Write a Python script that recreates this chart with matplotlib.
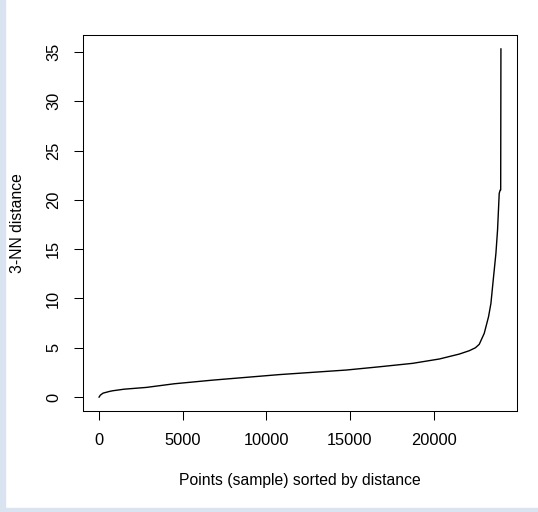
import matplotlib
matplotlib.use("Agg")
import matplotlib.pyplot as plt
from matplotlib.patches import Rectangle

# Data (sorted 3-NN distances)
rank = [1, 80, 240, 640, 818, 1500, 2830, 4500, 6806, 8800, 10790, 12779, 14770,
        16758, 18746, 20340, 21534, 22131, 22500, 22728, 23026, 23284, 23426,
        23564, 23725, 23822, 23922, 23982, 24010, 24024]
dist = [0.0, 0.2, 0.4, 0.58, 0.64, 0.8, 0.98, 1.35, 1.72, 2.0, 2.28, 2.51, 2.74,
        3.07, 3.42, 3.86, 4.36, 4.7, 5.0, 5.35, 6.46, 8.15, 9.5,
        11.87, 14.58, 16.94, 20.66, 21.0, 21.0, 35.3]
xticks = [0, 5000, 10000, 15000, 20000]
yticks = [0, 5, 10, 15, 20, 25, 30, 35]

W, H = 538, 512
fig = plt.figure(figsize=(W / 100, H / 100), dpi=100)
fig.patch.set_facecolor("white")
blue = "#dae4f1"
fig.patches.append(Rectangle((0, 0), 5 / W, 1, transform=fig.transFigure, color=blue, zorder=0))
fig.patches.append(Rectangle((0, 0), 1, 4 / H, transform=fig.transFigure, color=blue, zorder=0))

left, right, top, bottom = 83, 517, 35, 411
ax = fig.add_axes([left / W, 1 - bottom / H, (right - left) / W, (bottom - top) / H])
ax.plot(rank, dist, color="black", lw=1.0)

xmin, xmax = 1, max(rank)
ymin, ymax = min(dist), max(dist)
ax.set_xlim(xmin - 0.04 * (xmax - xmin), xmax + 0.04 * (xmax - xmin))
ax.set_ylim(ymin - 0.04 * (ymax - ymin), ymax + 0.04 * (ymax - ymin))
ax.set_xticks(xticks)
ax.set_yticks(yticks)
ax.set_xticklabels([str(t) for t in xticks])
ax.set_yticklabels([str(t) for t in yticks], rotation=90, va="center")

font = "Liberation Sans"
for lab in ax.get_xticklabels() + ax.get_yticklabels():
    lab.set_fontfamily(font)
    lab.set_fontsize(11.8)
ax.tick_params(direction="out", length=6.5, width=0.75, pad=9.4, colors="black")
for s in ax.spines.values():
    s.set_linewidth(0.75)

fig.text(300 / W, 1 - 480 / H, "Points (sample) sorted by distance", ha="center", va="center",
         fontsize=11.3, family=font)
fig.text(17.5 / W, 1 - 223 / H, "3-NN distance", ha="center", va="center", rotation=90,
         fontsize=11.3, family=font)

fig.savefig("out.png", dpi=100)
